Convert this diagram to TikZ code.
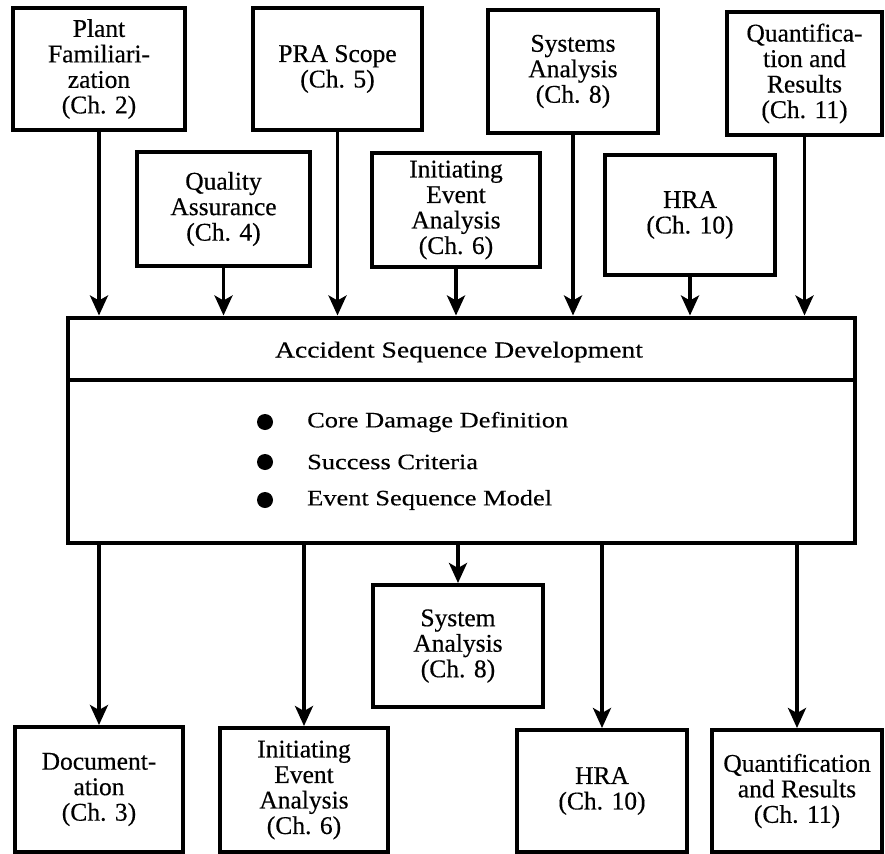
\documentclass[tikz,border=0pt]{standalone}
\usepackage{fontspec}
\setmainfont{Liberation Serif}[FakeBold=0.4]
\newfontfamily\widefont{Liberation Serif}[FakeStretch=1.2,FakeBold=0.3]
\usetikzlibrary{arrows.meta}
\begin{document}
\begin{tikzpicture}[x=1pt,y=1pt,
  box/.style={draw, line width=4pt, align=center, inner sep=2pt,
    font=\fontsize{25.5}{25.5}\selectfont},
  arr/.style={line width=3.5pt, -{Stealth[length=20pt,width=18pt,inset=5pt]}},
  dot/.style={circle, fill=black, inner sep=0pt, minimum size=16pt},
  item/.style={anchor=west, inner sep=0pt, font=\widefont\fontsize{22}{24}\selectfont}]
\useasboundingbox (0,0) rectangle (885,-853);

% inputs, upper row
\node[box, minimum width=172pt, minimum height=122pt] (plant) at (99,-69) {Plant\\Familiari-\\zation\\(Ch. 2)};
\node[box, minimum width=169pt, minimum height=122pt] (pra) at (337.5,-69) {PRA Scope\\(Ch. 5)};
\node[box, minimum width=170pt, minimum height=123pt] (sys) at (573,-71.5) {Systems\\Analysis\\(Ch. 8)};
\node[box, minimum width=155pt, minimum height=123pt] (quant) at (804.5,-73.5) {Quantifica-\\tion and\\Results\\(Ch. 11)};

% inputs, lower row
\node[box, minimum width=173pt, minimum height=114pt] (qa) at (223.5,-209) {Quality\\Assurance\\(Ch. 4)};
\node[box, minimum width=168pt, minimum height=114pt] (iea) at (456,-210) {Initiating\\Event\\Analysis\\(Ch. 6)};
\node[box, minimum width=170pt, minimum height=120pt] (hra) at (690,-215) {HRA\\(Ch. 10)};

% central task with its heading band
\node[draw, line width=4pt, minimum width=787pt, minimum height=225pt, inner sep=0pt] (main) at (461.5,-430) {};
\coordinate (divl) at (main.west |- 0,-380);
\coordinate (divr) at (main.east |- 0,-380);
\draw[line width=4pt] (divl) -- (divr);
\node[item, anchor=center, font=\widefont\fontsize{23}{24}\selectfont] (title) at (459,-352) {Accident Sequence Development};
\node[dot] (b1) at (265,-422) {};
\node[dot] (b2) at (265,-462) {};
\node[dot] (b3) at (265,-500) {};
\node[item] (t1) at (307,-422) {Core Damage Definition};
\node[item] (t2) at (307,-462) {Success Criteria};
\node[item] (t3) at (307,-500) {Event Sequence Model};

% outputs
\node[box, minimum width=170pt, minimum height=122pt] (sysan) at (458,-646) {System\\Analysis\\(Ch. 8)};
\node[box, minimum width=168pt, minimum height=125pt] (doc) at (99,-789.5) {Document-\\ation\\(Ch. 3)};
\node[box, minimum width=168pt, minimum height=124pt] (iea2) at (304,-790) {Initiating\\Event\\Analysis\\(Ch. 6)};
\node[box, minimum width=170pt, minimum height=122pt] (hra2) at (602,-791) {HRA\\(Ch. 10)};
\node[box, minimum width=170pt, minimum height=122pt] (quant2) at (797,-791) {Quantification\\and Results\\(Ch. 11)};

% flows into the central task
\foreach \n in {plant,pra,sys,quant,qa,iea,hra}
  \draw[arr] (\n.south) -- (\n.south |- main.north);

% flows out of the central task
\foreach \n in {sysan,doc,iea2,hra2,quant2}
  \draw[arr] (main.south -| \n.north) -- (\n.north);
\end{tikzpicture}
\end{document}
